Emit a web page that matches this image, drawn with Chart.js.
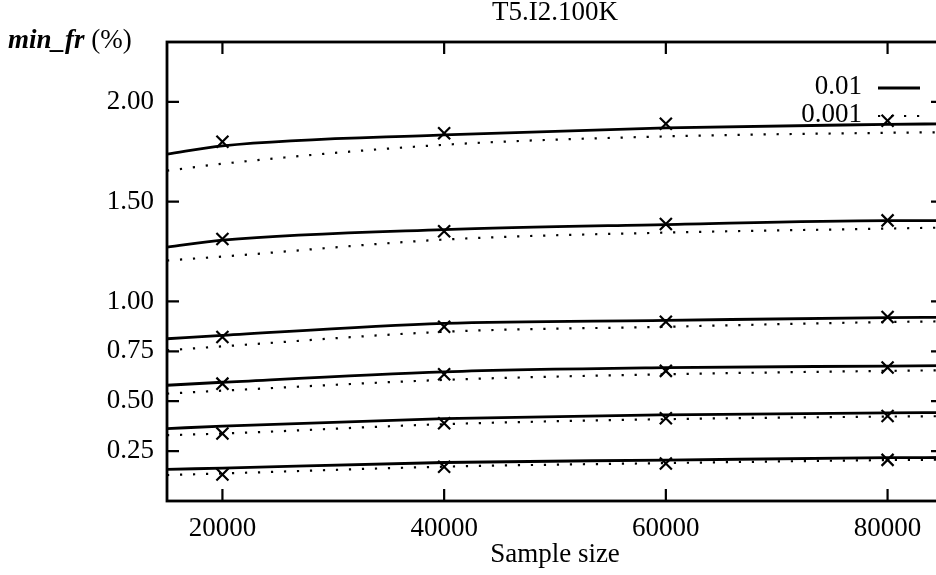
<!DOCTYPE html>
<html>
<head>
<meta charset="utf-8">
<title>T5.I2.100K</title>
<script src="https://cdn.jsdelivr.net/npm/chart.js@4.4.1/dist/chart.umd.min.js"></script>
<style>
  html, body { margin: 0; padding: 0; background: #fff; overflow: hidden; }
  #wrap { width: 960px; height: 575px; }
</style>
</head>
<body>
<div id="wrap"><canvas id="chart" width="960" height="575"></canvas></div>
<script>
// sample sizes where the curves are read, and where the crosses sit
const curveX = [15000, 20000, 40000, 60000, 80000, 85000];
const markX = [20000, 40000, 60000, 80000];

// one group per min_fr level, bottom to top
const solid025 = [0.158, 0.165, 0.193, 0.205, 0.217, 0.218];
const dotted025 = [0.130, 0.138, 0.172, 0.190, 0.205, 0.207];
const marks025 = [0.133, 0.172, 0.188, 0.206];

const solid050 = [0.363, 0.375, 0.413, 0.432, 0.442, 0.443];
const dotted050 = [0.330, 0.338, 0.385, 0.410, 0.423, 0.425];
const marks050 = [0.338, 0.390, 0.415, 0.426];

const solid075 = [0.580, 0.595, 0.647, 0.668, 0.676, 0.678];
const dotted075 = [0.538, 0.553, 0.607, 0.635, 0.652, 0.655];
const marks075 = [0.588, 0.635, 0.652, 0.669];

const solid100 = [0.813, 0.830, 0.890, 0.905, 0.919, 0.920];
const dotted100 = [0.755, 0.775, 0.848, 0.873, 0.897, 0.900];
const marks100 = [0.822, 0.873, 0.898, 0.922];

const solid150 = [1.272, 1.307, 1.360, 1.385, 1.405, 1.405];
const dotted150 = [1.205, 1.225, 1.310, 1.345, 1.365, 1.370];
const marks150 = [1.313, 1.352, 1.388, 1.406];

const solid200 = [1.738, 1.780, 1.835, 1.870, 1.887, 1.890];
const dotted200 = [1.655, 1.690, 1.785, 1.827, 1.845, 1.848];
const marks200 = [1.800, 1.843, 1.890, 1.905];

const xTicks = [20000, 40000, 60000, 80000];
const yTicks = [0.25, 0.50, 0.75, 1.00, 1.50, 2.00];
const legendLabels = ['0.01', '0.001'];

const titleText = 'T5.I2.100K';
const xTitle = 'Sample size';
const yTitleItalic = 'min_fr';
const yTitleRest = ' (%)';

const FONT = '"Liberation Serif", "Times New Roman", serif';

function toPoints(xs, ys) {
    return xs.map((x, i) => ({ x: x, y: ys[i] }));
}

const solidStyle = { borderColor: '#000', borderWidth: 2.8, pointRadius: 0, cubicInterpolationMode: 'monotone', fill: false };
const dottedStyle = { borderColor: '#000', borderWidth: 2.2, borderDash: [2.2, 10.8], pointRadius: 0, cubicInterpolationMode: 'monotone', fill: false };
const markStyle = { showLine: false, pointStyle: 'crossRot', pointRadius: 8.5, borderColor: '#000', borderWidth: 2.2 };

const groups = [
    [solid025, dotted025, marks025],
    [solid050, dotted050, marks050],
    [solid075, dotted075, marks075],
    [solid100, dotted100, marks100],
    [solid150, dotted150, marks150],
    [solid200, dotted200, marks200]
];

const datasets = [];
groups.forEach(g => {
    datasets.push(Object.assign({ label: legendLabels[0], data: toPoints(curveX, g[0]) }, solidStyle));
    datasets.push(Object.assign({ label: legendLabels[1], data: toPoints(curveX, g[1]) }, dottedStyle));
    datasets.push(Object.assign({ label: 'marks', data: toPoints(markX, g[2]) }, markStyle));
});

// frame, inward ticks on all four sides, title texts and the little legend
const decorations = {
    id: 'decorations',
    afterDatasetsDraw(chart) {
        const ctx = chart.ctx;
        const a = chart.chartArea;
        const xs = chart.scales.x;
        const ys = chart.scales.y;
        const tl = 12;
        ctx.save();
        ctx.strokeStyle = '#000';
        ctx.lineWidth = 2.8;
        ctx.setLineDash([]);
        ctx.strokeRect(a.left, a.top, a.right - a.left, a.bottom - a.top);
        ctx.lineWidth = 2.2;
        ctx.beginPath();
        xTicks.forEach(v => {
            const px = xs.getPixelForValue(v);
            ctx.moveTo(px, a.bottom); ctx.lineTo(px, a.bottom - tl);
            ctx.moveTo(px, a.top); ctx.lineTo(px, a.top + tl);
        });
        yTicks.forEach(v => {
            const py = ys.getPixelForValue(v);
            ctx.moveTo(a.left, py); ctx.lineTo(a.left + tl, py);
            ctx.moveTo(a.right, py); ctx.lineTo(a.right - tl, py);
        });
        ctx.stroke();

        ctx.fillStyle = '#000';
        ctx.textBaseline = 'alphabetic';
        ctx.font = '27px ' + FONT;
        ctx.textAlign = 'center';
        ctx.fillText(titleText, (a.left + a.right) / 2, 20);

        ctx.textAlign = 'left';
        ctx.font = 'italic bold 27px ' + FONT;
        ctx.fillText(yTitleItalic, 8, 48);
        const w = ctx.measureText(yTitleItalic).width;
        ctx.font = '27px ' + FONT;
        ctx.fillText(yTitleRest, 8 + w, 48);

        // legend
        ctx.textAlign = 'right';
        ctx.textBaseline = 'middle';
        const lx = a.right - 81;
        const rows = [a.top + 45, a.top + 73];
        rows.forEach((ry, i) => {
            ctx.font = '27px ' + FONT;
            ctx.fillText(legendLabels[i], lx, ry);
            const ds = chart.data.datasets[i];
            ctx.lineWidth = ds.borderWidth;
            ctx.setLineDash(ds.borderDash || []);
            ctx.beginPath();
            ctx.moveTo(lx + 16, ry + 1);
            ctx.lineTo(lx + 58, ry + 1);
            ctx.stroke();
        });
        ctx.restore();
    }
};

new Chart(document.getElementById('chart').getContext('2d'), {
    type: 'line',
    data: { datasets: datasets },
    options: {
        responsive: false,
        animation: false,
        layout: { padding: { top: 42, right: 17, left: 0, bottom: 0 } },
        plugins: { legend: { display: false }, tooltip: { enabled: false }, title: { display: false } },
        scales: {
            x: {
                type: 'linear',
                min: 15000,
                max: 85000,
                afterBuildTicks: s => { s.ticks = xTicks.map(v => ({ value: v })); },
                afterFit: s => { s.height = 74; },
                grid: { display: false, drawTicks: false },
                border: { display: false },
                ticks: { color: '#000', padding: 12, font: { family: FONT, size: 27 }, callback: v => String(v) },
                title: { display: true, text: xTitle, color: '#000', font: { family: FONT, size: 27 }, padding: { top: 0, bottom: 4 } }
            },
            y: {
                type: 'linear',
                min: 0,
                max: 2.3,
                afterBuildTicks: s => { s.ticks = yTicks.map(v => ({ value: v })); },
                afterFit: s => { s.width = 167; },
                grid: { display: false, drawTicks: false },
                border: { display: false },
                ticks: { color: '#000', padding: 13, font: { family: FONT, size: 27 }, callback: v => Number(v).toFixed(2) }
            }
        }
    },
    plugins: [decorations]
});
</script>
</body>
</html>
